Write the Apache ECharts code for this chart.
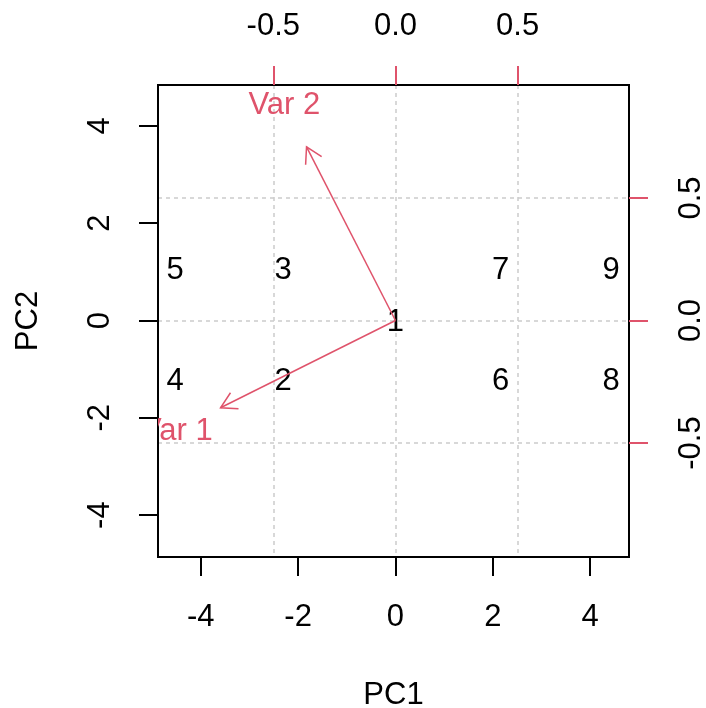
<!DOCTYPE html>
<html>
<head>
<meta charset="utf-8">
<script src="https://cdn.jsdelivr.net/npm/echarts@6/dist/echarts.min.js"></script>
<style>html,body{margin:0;padding:0;background:#fff;}#c{width:706px;height:708px;}</style>
</head>
<body>
<div id="c"></div>
<script>
// ---- data ----
const obsLabels = ['1','2','3','4','5','6','7','8','9'];
const pc1 = [0, -2.31, -2.31, -4.53, -4.53, 2.16, 2.16, 4.43, 4.43];
const pc2 = [0, -1.21, 1.07, -1.21, 1.07, -1.21, 1.07, -1.21, 1.07];
const varNames = ['Var 1', 'Var 2'];
const loadX = [-0.895, -0.455];
const loadY = [-0.445, 0.886];
const scoreTicks = [-4, -2, 0, 2, 4];
const loadTicks = [-0.5, 0, 0.5];

const RED = '#DF536B';
const FONT = '"Liberation Sans", Arial, sans-serif';
const FS = 31;
const TEXT_DY = 2;

const chart = echarts.init(document.getElementById('c'), null, {renderer: 'canvas'});

function clipRect(params) {
  const cs = params.coordSys;
  return {type: 'rect', shape: {x: cs.x, y: cs.y, width: cs.width, height: cs.height}};
}

const obsData = obsLabels.map((l, i) => [pc1[i], pc2[i], l]);
const varData = varNames.map((n, i) => [loadX[i], loadY[i], n]);

function axisCommon(tickColor, ticks, margin, rotate, fmt) {
  return {
    type: 'value',
    axisLine: {show: true, onZero: false, lineStyle: {color: '#000', width: 2}},
    axisTick: {show: true, length: 19, customValues: ticks, lineStyle: {color: tickColor, width: 2}},
    axisLabel: {customValues: ticks, color: '#000', fontSize: FS, fontFamily: FONT, lineHeight: FS,
      margin: margin, rotate: rotate, showMinLabel: true, showMaxLabel: true, formatter: fmt},
    splitLine: {show: false}
  };
}
const fmtInt = v => String(v);
const fmt1 = v => Number(v).toFixed(1);

const xBottom = Object.assign(axisCommon('#000', scoreTicks, 45, 0, fmtInt), {
  position: 'bottom', min: -4.88, max: 4.80,
  name: 'PC1', nameLocation: 'middle', nameGap: 123,
  nameTextStyle: {fontSize: FS, fontFamily: FONT, color: '#000'}
});
const xTop = Object.assign(axisCommon(RED, loadTicks, 43, 0, fmt1), {
  position: 'top', min: -0.972, max: 0.956
});
xTop.splitLine = {show: true, lineStyle: {color: '#cccccc', width: 1.5, type: [4, 4]}};

const yLeft = Object.assign(axisCommon('#000', scoreTicks, 42, 90, fmtInt), {
  position: 'left', min: -4.86, max: 4.84,
  name: 'PC2', nameLocation: 'middle', nameGap: 114,
  nameTextStyle: {fontSize: FS, fontFamily: FONT, color: '#000'}
});
const yRight = Object.assign(axisCommon(RED, loadTicks, 47, 90, fmt1), {
  position: 'right', min: -0.965, max: 0.961
});
yRight.splitLine = {show: true, lineStyle: {color: '#cccccc', width: 1.5, type: [4, 4]}};

const option = {
  backgroundColor: '#fff',
  animation: false,
  grid: {left: 158, top: 85, width: 471, height: 472, show: true, borderColor: '#000', borderWidth: 2,
    backgroundColor: 'transparent', containLabel: false, outerBoundsMode: 'none'},
  xAxis: [xBottom, xTop],
  yAxis: [yLeft, yRight],
  series: [
    {
      type: 'custom', xAxisIndex: 0, yAxisIndex: 0, data: obsData,
      renderItem: function (params, api) {
        const p = api.coord([api.value(0), api.value(1)]);
        return {type: 'group', clipPath: clipRect(params), children: [
          {type: 'text', x: p[0], y: p[1] + TEXT_DY, style: {text: obsData[params.dataIndex][2], fill: '#000',
            font: FS + 'px ' + FONT, align: 'center', verticalAlign: 'middle'}}
        ]};
      },
      z: 3
    },
    {
      type: 'custom', xAxisIndex: 1, yAxisIndex: 1, data: varData,
      renderItem: function (params, api) {
        const vx = api.value(0), vy = api.value(1);
        const o = api.coord([0, 0]);
        const t = api.coord([vx * 0.8, vy * 0.8]);
        const l = api.coord([vx, vy]);
        const ang = Math.atan2(t[1] - o[1], t[0] - o[0]);
        const L = 18, a = Math.PI / 6;
        const h1 = [t[0] - L * Math.cos(ang - a), t[1] - L * Math.sin(ang - a)];
        const h2 = [t[0] - L * Math.cos(ang + a), t[1] - L * Math.sin(ang + a)];
        return {type: 'group', clipPath: clipRect(params), children: [
          {type: 'line', shape: {x1: o[0], y1: o[1], x2: t[0], y2: t[1]}, style: {stroke: RED, lineWidth: 1.5}},
          {type: 'polyline', shape: {points: [h1, t, h2]}, style: {stroke: RED, fill: null, lineWidth: 1.5}},
          {type: 'text', x: l[0], y: l[1] + TEXT_DY, style: {text: varData[params.dataIndex][2], fill: RED,
            font: FS + 'px ' + FONT, align: 'center', verticalAlign: 'middle'}}
        ]};
      },
      z: 4
    }
  ]
};
chart.setOption(option);
</script>
</body>
</html>
